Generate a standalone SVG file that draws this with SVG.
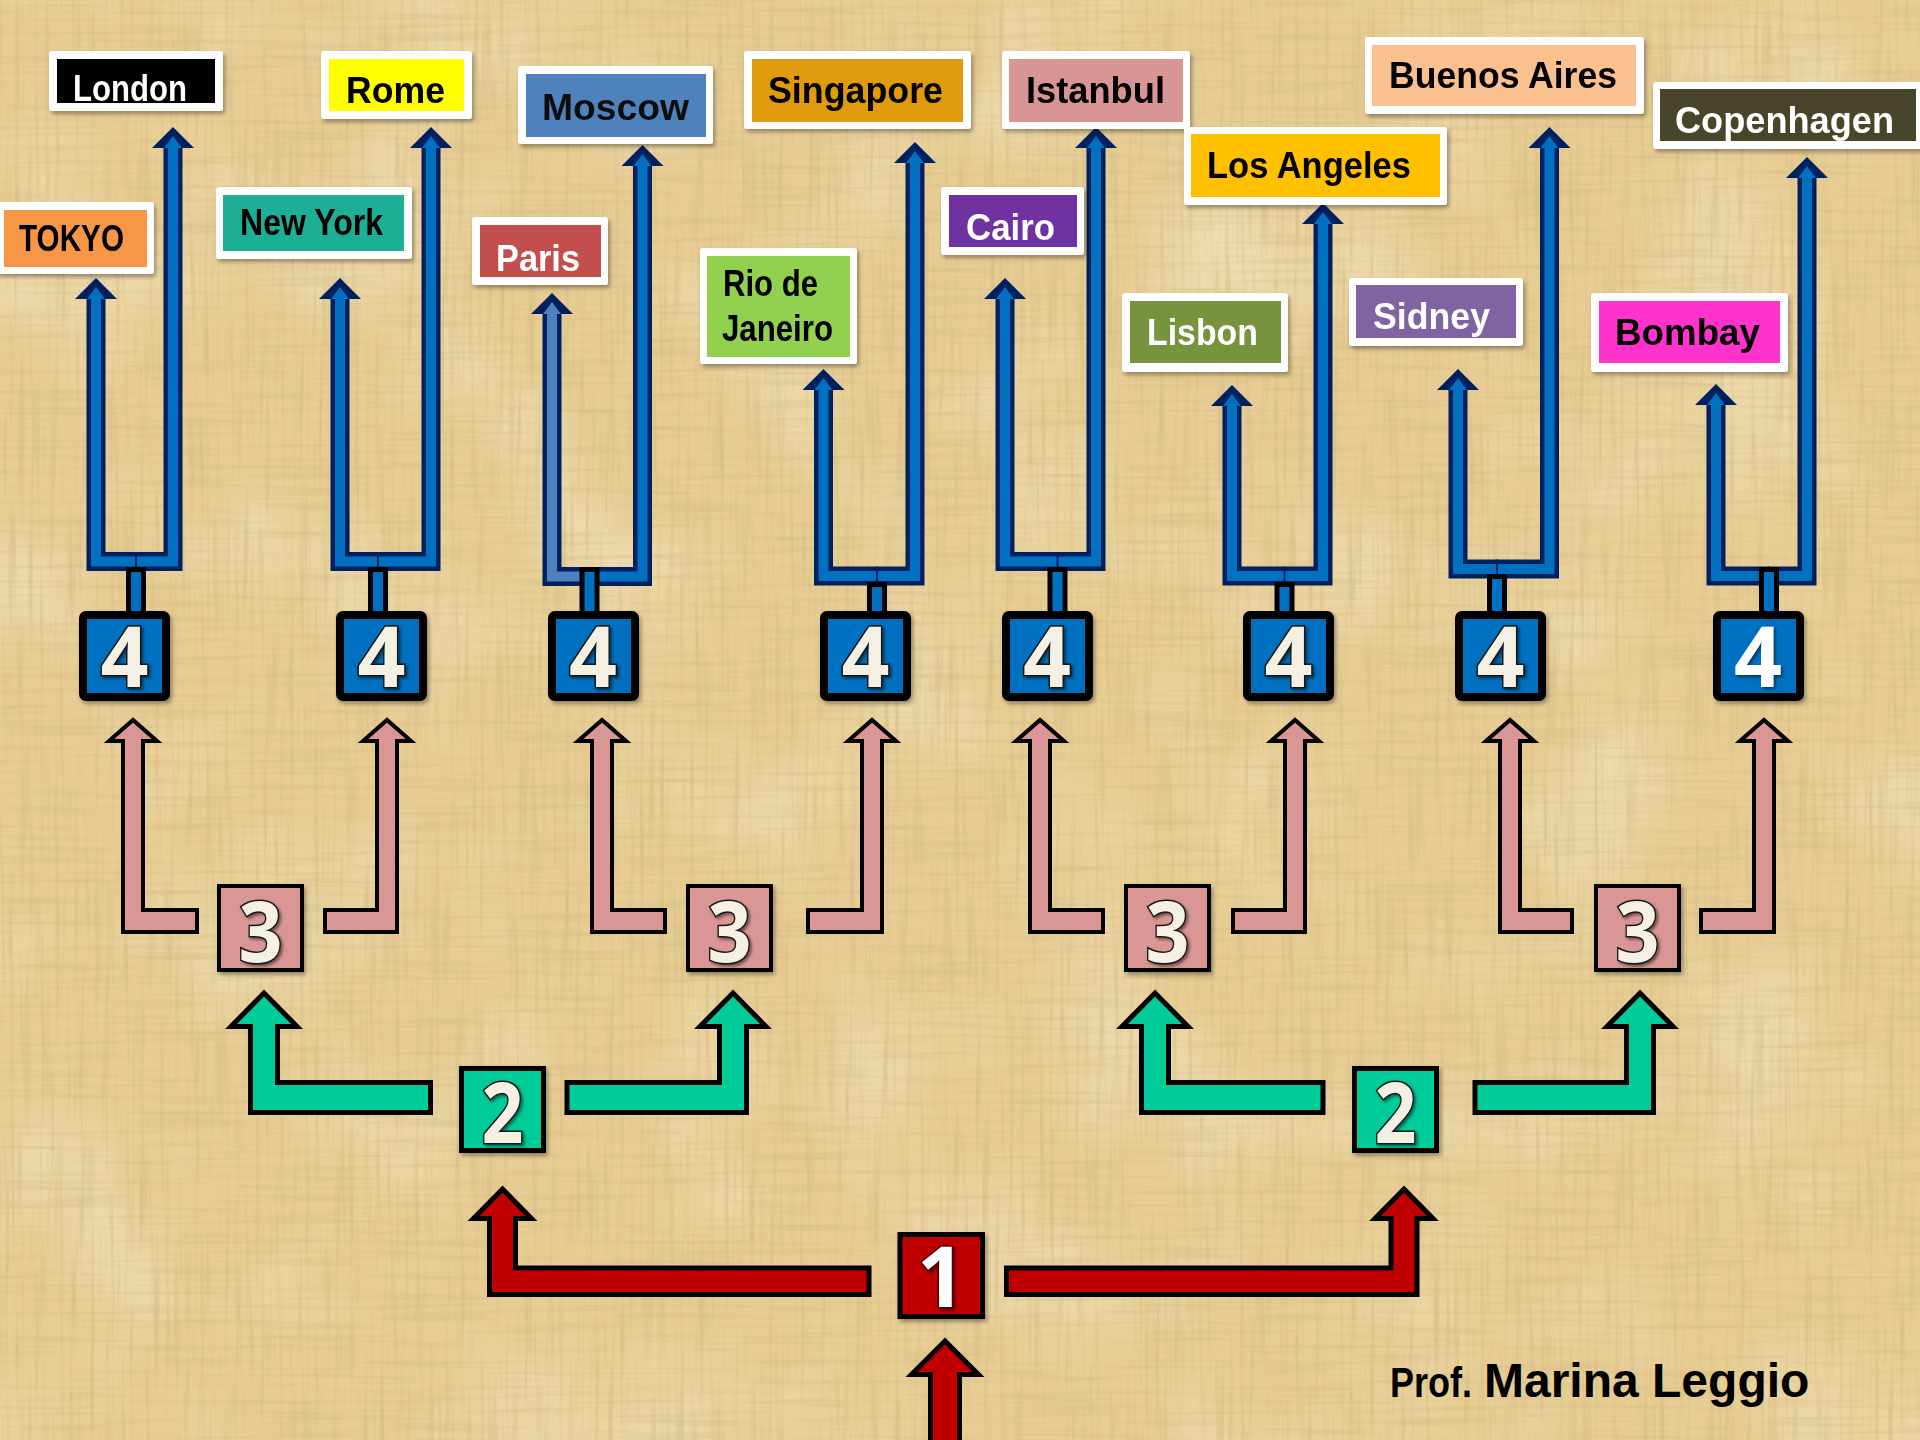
<svg xmlns="http://www.w3.org/2000/svg" width="1920" height="1440" viewBox="0 0 1920 1440">
<defs>
<style>
.bn{fill:none;stroke:#002060;stroke-width:19;stroke-linejoin:miter}
.bb{fill:none;stroke:#0070C0;stroke-width:10;stroke-linejoin:miter}
.bbl{fill:none;stroke:#4F81BD;stroke-width:10;stroke-linejoin:miter}
.bh{fill:#002060}
.bi{fill:#0070C0}
.bil{fill:#4F81BD}
.seam{stroke:#002060;stroke-width:2}
.stem{fill:#0070C0;stroke:#000;stroke-width:5}
.b4{fill:#0070C0;stroke:#000;stroke-width:8}
.b3{fill:#DA9694;stroke:#000;stroke-width:4}
.b2{fill:#00CC99;stroke:#000;stroke-width:5}
.b1{fill:#C00000;stroke:#000;stroke-width:5}
.pk{fill:#DA9694;stroke:#000;stroke-width:4;stroke-linejoin:miter}
.tl{fill:#00CC99;stroke:#000;stroke-width:5;stroke-linejoin:miter}
.rd{fill:#C00000;stroke:#000;stroke-width:5;stroke-linejoin:miter}
.dig{font-family:"Open Sans","DejaVu Sans",sans-serif;font-weight:700;font-size:84px;fill:#F4F1E4;stroke:#151515;stroke-width:3;paint-order:stroke;text-anchor:middle}
.wb{fill:#FFFFFF}
.lt{font-family:"Liberation Sans",Arial,sans-serif;font-weight:700;font-size:36px}
.w{fill:#FFFFFF}
.k{fill:#000000}
.au{font-family:"Liberation Sans",Arial,sans-serif;font-weight:700;fill:#000}
</style>
<filter id="sh" x="-20%" y="-20%" width="140%" height="150%">
<feDropShadow dx="2" dy="3" stdDeviation="2" flood-color="#000" flood-opacity="0.35"/>
</filter>
<filter id="dsh" x="-20%" y="-20%" width="150%" height="150%">
<feDropShadow dx="2" dy="2" stdDeviation="1.5" flood-color="#000" flood-opacity="0.5"/>
</filter>
<filter id="fibV" filterUnits="userSpaceOnUse" x="0" y="0" width="1920" height="1440">
<feTurbulence type="fractalNoise" baseFrequency="0.2 0.008" numOctaves="2" seed="4"/>
<feColorMatrix type="matrix" values="0 0 0 0 0.62  0 0 0 0 0.47  0 0 0 0 0.2  3.2 0 0 0 -1.55"/>
</filter>
<filter id="fibH" filterUnits="userSpaceOnUse" x="0" y="0" width="1920" height="1440">
<feTurbulence type="fractalNoise" baseFrequency="0.008 0.2" numOctaves="2" seed="9"/>
<feColorMatrix type="matrix" values="0 0 0 0 0.62  0 0 0 0 0.47  0 0 0 0 0.2  3.2 0 0 0 -1.55"/>
</filter>
<filter id="blot" filterUnits="userSpaceOnUse" x="0" y="0" width="1920" height="1440">
<feTurbulence type="fractalNoise" baseFrequency="0.006" numOctaves="3" seed="2"/>
<feColorMatrix type="matrix" values="0 0 0 0 0.97  0 0 0 0 0.91  0 0 0 0 0.74  2.5 0 0 0 -1.15"/>
</filter>
</defs>

<g id="background">
<rect width="1920" height="1440" fill="#E7CD94"/>
<rect width="1920" height="1440" fill="#000" filter="url(#blot)" opacity="0.35"/>
<rect width="1920" height="1440" fill="#000" filter="url(#fibV)" opacity="0.45"/>
<rect width="1920" height="1440" fill="#000" filter="url(#fibH)" opacity="0.35"/>
</g>

<g id="connectors">
<path class="bn" d="M136 561.5H96V297"/>
<path class="bn" d="M136 561.5H173V146"/>
<path class="bn" d="M378 561.5H340V297"/>
<path class="bn" d="M378 561.5H431V146"/>
<path class="bn" d="M589.5 576.5H552V312"/>
<path class="bn" d="M589.5 576.5H642.5V164"/>
<path class="bn" d="M877 576H823.5V388"/>
<path class="bn" d="M877 576H915V161"/>
<path class="bn" d="M1057.5 561.5H1005V297"/>
<path class="bn" d="M1057.5 561.5H1096V146"/>
<path class="bn" d="M1284.5 576H1232V404"/>
<path class="bn" d="M1284.5 576H1323V222"/>
<path class="bn" d="M1497 569H1458V388"/>
<path class="bn" d="M1497 569H1549.5V146"/>
<path class="bn" d="M1769 576H1716V403"/>
<path class="bn" d="M1769 576H1807V176"/>
<path class="bb" d="M136 561.5H96V296"/>
<path class="bb" d="M136 561.5H173V145"/>
<path class="bb" d="M378 561.5H340V296"/>
<path class="bb" d="M378 561.5H431V145"/>
<path class="bbl" d="M589.5 576.5H552V311"/>
<path class="bb" d="M589.5 576.5H642.5V163"/>
<path class="bb" d="M877 576H823.5V387"/>
<path class="bb" d="M877 576H915V160"/>
<path class="bb" d="M1057.5 561.5H1005V296"/>
<path class="bb" d="M1057.5 561.5H1096V145"/>
<path class="bb" d="M1284.5 576H1232V403"/>
<path class="bb" d="M1284.5 576H1323V221"/>
<path class="bb" d="M1497 569H1458V387"/>
<path class="bb" d="M1497 569H1549.5V145"/>
<path class="bb" d="M1769 576H1716V402"/>
<path class="bb" d="M1769 576H1807V175"/>
<line class="seam" x1="136" y1="552" x2="136" y2="571"/>
<line class="seam" x1="378" y1="552" x2="378" y2="571"/>
<line class="seam" x1="589.5" y1="567" x2="589.5" y2="586"/>
<line class="seam" x1="877" y1="566.5" x2="877" y2="585.5"/>
<line class="seam" x1="1057.5" y1="552" x2="1057.5" y2="571"/>
<line class="seam" x1="1284.5" y1="566.5" x2="1284.5" y2="585.5"/>
<line class="seam" x1="1497" y1="559.5" x2="1497" y2="578.5"/>
<line class="seam" x1="1769" y1="566.5" x2="1769" y2="585.5"/>
<polygon class="bh" points="96,278 75,299 117,299"/><polygon class="bi" points="96,287 87,299 105,299"/>
<polygon class="bh" points="173,127 152,148 194,148"/><polygon class="bi" points="173,136 164,148 182,148"/>
<polygon class="bh" points="340,278 319,299 361,299"/><polygon class="bi" points="340,287 331,299 349,299"/>
<polygon class="bh" points="431,127 410,148 452,148"/><polygon class="bi" points="431,136 422,148 440,148"/>
<polygon class="bh" points="552,293 531,314 573,314"/><polygon class="bil" points="552,302 543,314 561,314"/>
<polygon class="bh" points="642.5,145 621.5,166 663.5,166"/><polygon class="bi" points="642.5,154 633.5,166 651.5,166"/>
<polygon class="bh" points="823.5,369 802.5,390 844.5,390"/><polygon class="bi" points="823.5,378 814.5,390 832.5,390"/>
<polygon class="bh" points="915,142 894,163 936,163"/><polygon class="bi" points="915,151 906,163 924,163"/>
<polygon class="bh" points="1005,278 984,299 1026,299"/><polygon class="bi" points="1005,287 996,299 1014,299"/>
<polygon class="bh" points="1096,127 1075,148 1117,148"/><polygon class="bi" points="1096,136 1087,148 1105,148"/>
<polygon class="bh" points="1232,385 1211,406 1253,406"/><polygon class="bi" points="1232,394 1223,406 1241,406"/>
<polygon class="bh" points="1323,203 1302,224 1344,224"/><polygon class="bi" points="1323,212 1314,224 1332,224"/>
<polygon class="bh" points="1458,369 1437,390 1479,390"/><polygon class="bi" points="1458,378 1449,390 1467,390"/>
<polygon class="bh" points="1549.5,127 1528.5,148 1570.5,148"/><polygon class="bi" points="1549.5,136 1540.5,148 1558.5,148"/>
<polygon class="bh" points="1716,384 1695,405 1737,405"/><polygon class="bi" points="1716,393 1707,405 1725,405"/>
<polygon class="bh" points="1807,157 1786,178 1828,178"/><polygon class="bi" points="1807,166 1798,178 1816,178"/>
<rect class="stem" x="128.5" y="569.5" width="15" height="44"/>
<rect class="stem" x="370.5" y="569.5" width="15" height="44"/>
<rect class="stem" x="582" y="569.5" width="15" height="44"/>
<rect class="stem" x="869.5" y="584.5" width="15" height="29"/>
<rect class="stem" x="1050" y="569.5" width="15" height="44"/>
<rect class="stem" x="1277" y="584.5" width="15" height="29"/>
<rect class="stem" x="1489.5" y="576.5" width="15" height="37"/>
<rect class="stem" x="1761.5" y="569.5" width="15" height="44"/>
<polygon class="pk" points="197,910 143,910 143,741 157,741 133,720 109,741 123,741 123,932 197,932"/>
<polygon class="pk" points="325,910 377,910 377,741 363,741 387,720 411,741 397,741 397,932 325,932"/>
<polygon class="pk" points="665,910 612,910 612,741 626,741 602,720 578,741 592,741 592,932 665,932"/>
<polygon class="pk" points="808,910 862,910 862,741 848,741 872,720 896,741 882,741 882,932 808,932"/>
<polygon class="pk" points="1103,910 1050,910 1050,741 1064,741 1040,720 1016,741 1030,741 1030,932 1103,932"/>
<polygon class="pk" points="1233,910 1285,910 1285,741 1271,741 1295,720 1319,741 1305,741 1305,932 1233,932"/>
<polygon class="pk" points="1572,910 1520,910 1520,741 1534,741 1510,720 1486,741 1500,741 1500,932 1572,932"/>
<polygon class="pk" points="1701,910 1754,910 1754,741 1740,741 1764,720 1788,741 1774,741 1774,932 1701,932"/>
<polygon class="tl" points="430.5,1082.5 277.5,1082.5 277.5,1026.5 297,1026.5 264,993 231,1026.5 250.5,1026.5 250.5,1112.5 430.5,1112.5"/>
<polygon class="tl" points="567,1082.5 719.5,1082.5 719.5,1026.5 700,1026.5 733,993 766,1026.5 746.5,1026.5 746.5,1112.5 567,1112.5"/>
<polygon class="tl" points="1323,1082.5 1168.5,1082.5 1168.5,1026.5 1188,1026.5 1155,993 1122,1026.5 1141.5,1026.5 1141.5,1112.5 1323,1112.5"/>
<polygon class="tl" points="1475,1082.5 1626.5,1082.5 1626.5,1026.5 1607,1026.5 1640,993 1673,1026.5 1653.5,1026.5 1653.5,1112.5 1475,1112.5"/>
<polygon class="rd" points="869,1268 515.5,1268 515.5,1218.5 531.5,1218.5 502.5,1189 473.5,1218.5 489.5,1218.5 489.5,1294.5 869,1294.5"/>
<polygon class="rd" points="1006.5,1268 1391,1268 1391,1218.5 1375,1218.5 1404,1189 1433,1218.5 1417,1218.5 1417,1294.5 1006.5,1294.5"/>
<polygon class="rd" points="930.5,1450 930.5,1374.5 911.5,1374.5 945,1341 978.5,1374.5 959.5,1374.5 959.5,1450"/>
</g>

<g id="n4-1"><rect class="b4" x="83" y="615" width="83" height="82" rx="3" filter="url(#sh)"/><text class="dig" x="124.5" y="687" filter="url(#dsh)">4</text></g>
<g id="n4-2"><rect class="b4" x="340" y="615" width="83" height="82" rx="3" filter="url(#sh)"/><text class="dig" x="381.5" y="687" filter="url(#dsh)">4</text></g>
<g id="n4-3"><rect class="b4" x="552" y="615" width="83" height="82" rx="3" filter="url(#sh)"/><text class="dig" x="593" y="687" filter="url(#dsh)">4</text></g>
<g id="n4-4"><rect class="b4" x="824" y="615" width="83" height="82" rx="3" filter="url(#sh)"/><text class="dig" x="865.5" y="687" filter="url(#dsh)">4</text></g>
<g id="n4-5"><rect class="b4" x="1006" y="615" width="83" height="82" rx="3" filter="url(#sh)"/><text class="dig" x="1047" y="687" filter="url(#dsh)">4</text></g>
<g id="n4-6"><rect class="b4" x="1247" y="615" width="83" height="82" rx="3" filter="url(#sh)"/><text class="dig" x="1288.5" y="687" filter="url(#dsh)">4</text></g>
<g id="n4-7"><rect class="b4" x="1459" y="615" width="83" height="82" rx="3" filter="url(#sh)"/><text class="dig" x="1500.5" y="687" filter="url(#dsh)">4</text></g>
<g id="n4-8"><rect class="b4" x="1717" y="615" width="83" height="82" rx="3" filter="url(#sh)"/><text class="dig" x="1758" y="687" style="fill:#FFFFFF;stroke:none" filter="url(#dsh)">4</text></g>

<g id="n3-1"><rect class="b3" x="219" y="886" width="83" height="84" filter="url(#sh)"/><text class="dig" x="260.5" y="962" textLength="44" lengthAdjust="spacingAndGlyphs" filter="url(#dsh)">3</text></g>
<g id="n3-2"><rect class="b3" x="688" y="886" width="83" height="84" filter="url(#sh)"/><text class="dig" x="729.5" y="962" textLength="44" lengthAdjust="spacingAndGlyphs" filter="url(#dsh)">3</text></g>
<g id="n3-3"><rect class="b3" x="1126" y="886" width="83" height="84" filter="url(#sh)"/><text class="dig" x="1167.5" y="962" textLength="44" lengthAdjust="spacingAndGlyphs" filter="url(#dsh)">3</text></g>
<g id="n3-4"><rect class="b3" x="1596" y="886" width="83" height="84" filter="url(#sh)"/><text class="dig" x="1637.5" y="962" textLength="44" lengthAdjust="spacingAndGlyphs" filter="url(#dsh)">3</text></g>

<g id="n2-1"><rect class="b2" x="461.5" y="1068.5" width="82" height="82" filter="url(#sh)"/><text class="dig" x="502.5" y="1143" textLength="42" lengthAdjust="spacingAndGlyphs" filter="url(#dsh)">2</text></g>
<g id="n2-2"><rect class="b2" x="1354.5" y="1068.5" width="82" height="82" filter="url(#sh)"/><text class="dig" x="1395.5" y="1143" textLength="42" lengthAdjust="spacingAndGlyphs" filter="url(#dsh)">2</text></g>

<g id="n1"><rect class="b1" x="900" y="1234.5" width="82.5" height="82" filter="url(#sh)"/><text class="dig" x="941" y="1307" style="fill:#FFFFFF;stroke:#4a0000" filter="url(#dsh)">1</text></g>

<g id="l-london" filter="url(#sh)"><rect class="wb" x="49" y="51" width="174" height="60" rx="3"/><rect x="57" y="59" width="158" height="44" fill="#000000"/><text class="lt w" x="73" y="101" textLength="114" lengthAdjust="spacingAndGlyphs">London</text></g>
<g id="l-tokyo" filter="url(#sh)"><rect class="wb" x="-4" y="202" width="158" height="72" rx="3"/><rect x="4" y="210" width="143" height="57" fill="#F79646"/><text class="lt k" x="19" y="251" textLength="105" lengthAdjust="spacingAndGlyphs">TOKYO</text></g>
<g id="l-rome" filter="url(#sh)"><rect class="wb" x="321" y="51" width="151" height="68" rx="3"/><rect x="329" y="59" width="135" height="52" fill="#FFFF00"/><text class="lt k" x="346" y="103" textLength="99" lengthAdjust="spacingAndGlyphs">Rome</text></g>
<g id="l-newyork" filter="url(#sh)"><rect class="wb" x="216" y="187" width="196" height="72" rx="3"/><rect x="223" y="195" width="181" height="56" fill="#1BAF96"/><text class="lt k" x="240" y="235" textLength="143" lengthAdjust="spacingAndGlyphs">New York</text></g>
<g id="l-paris" filter="url(#sh)"><rect class="wb" x="472" y="217" width="136" height="68" rx="3"/><rect x="480" y="225" width="121" height="52" fill="#C0504D"/><text class="lt w" x="496" y="271" textLength="84" lengthAdjust="spacingAndGlyphs">Paris</text></g>
<g id="l-moscow" filter="url(#sh)"><rect class="wb" x="518" y="66" width="195" height="78" rx="3"/><rect x="526" y="74" width="180" height="63" fill="#4F81BD"/><text class="lt" x="542" y="120" fill="#111111" textLength="147" lengthAdjust="spacingAndGlyphs">Moscow</text></g>
<g id="l-singapore" filter="url(#sh)"><rect class="wb" x="744" y="51" width="227" height="78" rx="3"/><rect x="752" y="59" width="211" height="63" fill="#DF9A0E"/><text class="lt k" x="768" y="103" textLength="175" lengthAdjust="spacingAndGlyphs">Singapore</text></g>
<g id="l-istanbul" filter="url(#sh)"><rect class="wb" x="1002" y="51" width="188" height="78" rx="3"/><rect x="1009" y="59" width="174" height="63" fill="#D99594"/><text class="lt k" x="1026" y="103" textLength="139" lengthAdjust="spacingAndGlyphs">Istanbul</text></g>
<g id="l-cairo" filter="url(#sh)"><rect class="wb" x="941" y="187" width="143" height="68" rx="3"/><rect x="949" y="195" width="128" height="52" fill="#7030A0"/><text class="lt w" x="966" y="240" textLength="89" lengthAdjust="spacingAndGlyphs">Cairo</text></g>
<g id="l-rio" filter="url(#sh)"><rect class="wb" x="700" y="248" width="157" height="116" rx="3"/><rect x="707" y="256" width="143" height="101" fill="#92D050"/><text class="lt k" x="723" y="296" textLength="95" lengthAdjust="spacingAndGlyphs">Rio de</text><text class="lt k" x="722" y="341" textLength="111" lengthAdjust="spacingAndGlyphs">Janeiro</text></g>
<g id="l-lisbon" filter="url(#sh)"><rect class="wb" x="1122" y="293" width="166" height="79" rx="3"/><rect x="1130" y="301" width="151" height="62" fill="#77933C"/><text class="lt w" x="1147" y="345" textLength="111" lengthAdjust="spacingAndGlyphs">Lisbon</text></g>
<g id="l-losangeles" filter="url(#sh)"><rect class="wb" x="1184" y="127" width="263" height="78" rx="3"/><rect x="1191" y="134" width="249" height="63" fill="#FFC000"/><text class="lt k" x="1207" y="178" textLength="204" lengthAdjust="spacingAndGlyphs">Los Angeles</text></g>
<g id="l-sidney" filter="url(#sh)"><rect class="wb" x="1349" y="278" width="174" height="68" rx="3"/><rect x="1356" y="285" width="160" height="53" fill="#8064A2"/><text class="lt w" x="1373" y="329" textLength="117" lengthAdjust="spacingAndGlyphs">Sidney</text></g>
<g id="l-buenosaires" filter="url(#sh)"><rect class="wb" x="1365" y="37" width="279" height="77" rx="3"/><rect x="1372" y="45" width="264" height="61" fill="#FAC090"/><text class="lt k" x="1389" y="88" textLength="228" lengthAdjust="spacingAndGlyphs">Buenos Aires</text></g>
<g id="l-copenhagen" filter="url(#sh)"><rect class="wb" x="1653" y="82" width="275" height="67" rx="3"/><rect x="1660" y="89" width="256" height="52" fill="#4A452A"/><text class="lt w" x="1675" y="133" textLength="219" lengthAdjust="spacingAndGlyphs">Copenhagen</text></g>
<g id="l-bombay" filter="url(#sh)"><rect class="wb" x="1591" y="293" width="197" height="79" rx="3"/><rect x="1599" y="301" width="181" height="62" fill="#FF33CC"/><text class="lt k" x="1615" y="345" textLength="145" lengthAdjust="spacingAndGlyphs">Bombay</text></g>

<g id="author">
<text class="au" y="1397"><tspan x="1390" font-size="42" textLength="82" lengthAdjust="spacingAndGlyphs">Prof.</tspan><tspan x="1484" font-size="48">Marina Leggio</tspan></text>
</g>
</svg>
